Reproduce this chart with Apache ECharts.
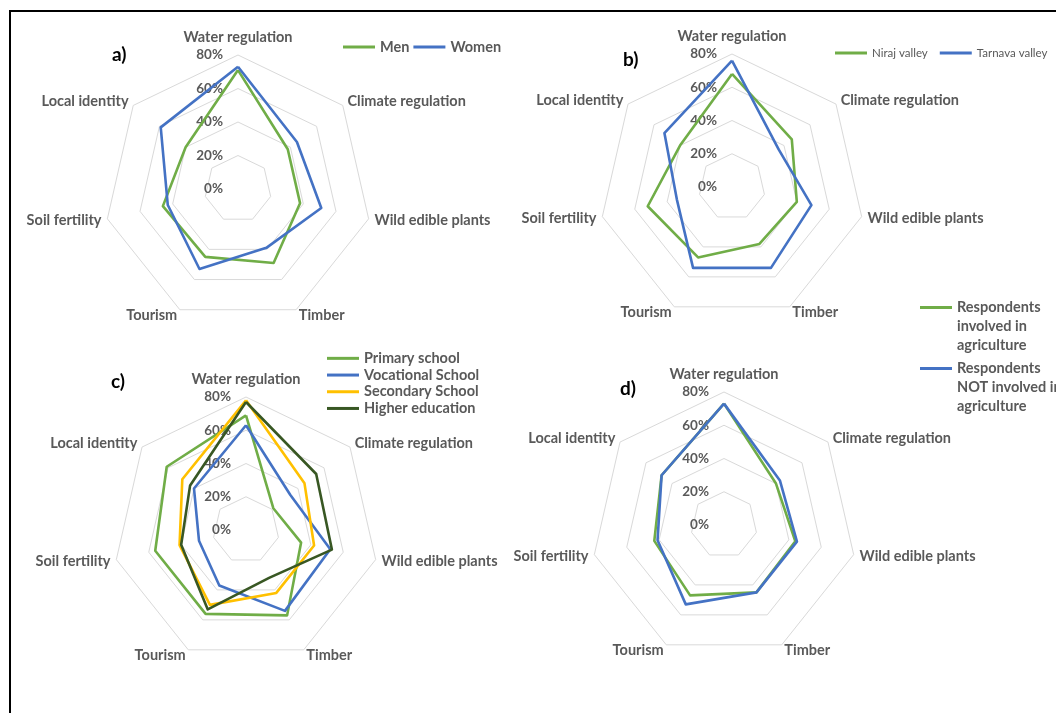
<!DOCTYPE html>
<html>
<head>
<meta charset="utf-8">
<script src="https://cdn.jsdelivr.net/npm/echarts@6/dist/echarts.min.js"></script>
<style>
  html, body { margin: 0; padding: 0; background: #ffffff; }
  #chart { width: 1056px; height: 713px; }
</style>
</head>
<body>
<div id="chart"></div>
<script>
// Ecosystem services, listed clockwise starting from the top axis
const services = ['Water regulation', 'Climate regulation', 'Wild edible plants', 'Timber', 'Tourism', 'Soil fertility', 'Local identity'];
const axisMin = 0;
const axisMax = 80;   // percent
const ringStep = 20;  // percent between rings

// a) by gender (% of respondents)
const men   = [71, 38, 38, 49, 45, 46, 40];
const women = [73, 45, 51, 39, 53, 43, 59];

// b) by valley
const nirajValley   = [68, 46, 40, 38, 47, 52, 40];
const tarnavaValley = [76, 36, 49, 54, 54, 34, 52];

// c) by education level
const primarySchool    = [69, 21, 34, 57, 56, 56, 61];
const vocationalSchool = [63, 34, 52, 54, 37, 29, 40];
const secondarySchool  = [78, 45, 42, 42, 50, 41, 49];
const higherEducation  = [77, 54, 53, 32, 53, 40, 43];

// d) by involvement in agriculture
const involvedInAgriculture    = [73, 40, 44, 45, 47, 43, 48];
const notInvolvedInAgriculture = [73, 43, 45, 45, 53, 41, 48];

const FONT = 'Lato, "Open Sans", sans-serif';
const GREY = '#595959';
const GREEN = '#70AD47';
const BLUE = '#4472C4';
const YELLOW = '#FFC000';
const DARKGREEN = '#385723';

// ECharts lays radar indicators out counter-clockwise, so reverse the
// clockwise order while keeping the first axis at the top.
const ccwOrder = [0, 6, 5, 4, 3, 2, 1];
const ccw = arr => ccwOrder.map(i => arr[i]);

function radarPanel(center, radius) {
  return {
    center: center,
    radius: radius,
    startAngle: 90,
    shape: 'polygon',
    splitNumber: (axisMax - axisMin) / ringStep,
    nameGap: 6,
    axisName: { color: GREY, fontWeight: 'bold', fontSize: 14.5, fontFamily: FONT },
    indicator: ccwOrder.map((i, k) => {
      const ind = { name: services[i], min: axisMin, max: axisMax };
      if (k === 0) {
        ind.axisLabel = { show: true };
        ind.nameTextStyle = { padding: [0, 0, 4, 0] };
      }
      return ind;
    }),
    axisLine: { show: false },
    axisTick: { show: false },
    splitArea: { show: false },
    splitLine: { lineStyle: { color: '#d9d9d9', width: 1 } },
    axisLabel: {
      show: false, formatter: '{value}%', color: GREY,
      fontWeight: 'bold', fontSize: 13.5, fontFamily: FONT, margin: 15
    }
  };
}

function entry(name, values, color) {
  return {
    name: name,
    value: ccw(values),
    lineStyle: { color: color, width: 2.6 },
    itemStyle: { color: color }
  };
}

const legendBase = {
  padding: 0,
  icon: 'rect',
  itemWidth: 32,
  itemHeight: 3,
  selectedMode: false
};
const boldText = { color: GREY, fontWeight: 'bold', fontSize: 14.5, fontFamily: FONT };

// legend d: first text line sits level with the line key
const agricultureLabels = {
  'Respondents involved in agriculture': '\n\nRespondents\ninvolved in\nagriculture',
  'Respondents NOT involved in agriculture': '\n\nRespondents\nNOT involved in\nagriculture'
};

const option = {
  backgroundColor: '#ffffff',
  animation: false,
  title: [
    { text: 'a)', left: 112, top: 45, padding: 0, textStyle: { fontSize: 19, fontWeight: 'bold', color: '#000', fontFamily: FONT } },
    { text: 'b)', left: 623, top: 50, padding: 0, textStyle: { fontSize: 19, fontWeight: 'bold', color: '#000', fontFamily: FONT } },
    { text: 'c)', left: 111, top: 372, padding: 0, textStyle: { fontSize: 19, fontWeight: 'bold', color: '#000', fontFamily: FONT } },
    { text: 'd)', left: 620, top: 379, padding: 0, textStyle: { fontSize: 19, fontWeight: 'bold', color: '#000', fontFamily: FONT } }
  ],
  legend: [
    Object.assign({}, legendBase, {
      data: ['Men', 'Women'], left: 343, top: 39, itemGap: 4,
      textStyle: Object.assign({}, boldText, { lineHeight: 16 })
    }),
    Object.assign({}, legendBase, {
      data: ['Niraj valley', 'Tarnava valley'], left: 835, top: 46, itemGap: 12,
      textStyle: { color: GREY, fontSize: 11.5, fontFamily: FONT, lineHeight: 14 }
    }),
    Object.assign({}, legendBase, {
      data: ['Primary school', 'Vocational School', 'Secondary School', 'Higher education'],
      orient: 'vertical', left: 327, top: 350, itemGap: 0,
      textStyle: Object.assign({}, boldText, { lineHeight: 16.7 })
    }),
    Object.assign({}, legendBase, {
      data: ['Respondents involved in agriculture', 'Respondents NOT involved in agriculture'],
      orient: 'vertical', left: 920, top: 260, itemGap: -34,
      formatter: name => agricultureLabels[name],
      textStyle: Object.assign({}, boldText, { lineHeight: 19 })
    })
  ],
  radar: [
    radarPanel([238, 189], 134),
    radarPanel([732, 187], 133),
    radarPanel([246, 530], 133),
    radarPanel([724, 525], 133)
  ],
  series: [
    {
      type: 'radar', radarIndex: 0, symbol: 'none',
      data: [entry('Men', men, GREEN), entry('Women', women, BLUE)]
    },
    {
      type: 'radar', radarIndex: 1, symbol: 'none',
      data: [entry('Niraj valley', nirajValley, GREEN), entry('Tarnava valley', tarnavaValley, BLUE)]
    },
    {
      type: 'radar', radarIndex: 2, symbol: 'none',
      data: [
        entry('Primary school', primarySchool, GREEN),
        entry('Vocational School', vocationalSchool, BLUE),
        entry('Secondary School', secondarySchool, YELLOW),
        entry('Higher education', higherEducation, DARKGREEN)
      ]
    },
    {
      type: 'radar', radarIndex: 3, symbol: 'none',
      data: [
        entry('Respondents involved in agriculture', involvedInAgriculture, GREEN),
        entry('Respondents NOT involved in agriculture', notInvolvedInAgriculture, BLUE)
      ]
    }
  ],
  graphic: [
    {
      type: 'rect', silent: true, z: 100,
      shape: { x: 10, y: 11, width: 1100, height: 800 },
      style: { fill: 'none', stroke: '#000000', lineWidth: 2 }
    }
  ]
};

const chart = echarts.init(document.getElementById('chart'), null, { renderer: 'canvas' });
chart.setOption(option);
</script>
</body>
</html>
